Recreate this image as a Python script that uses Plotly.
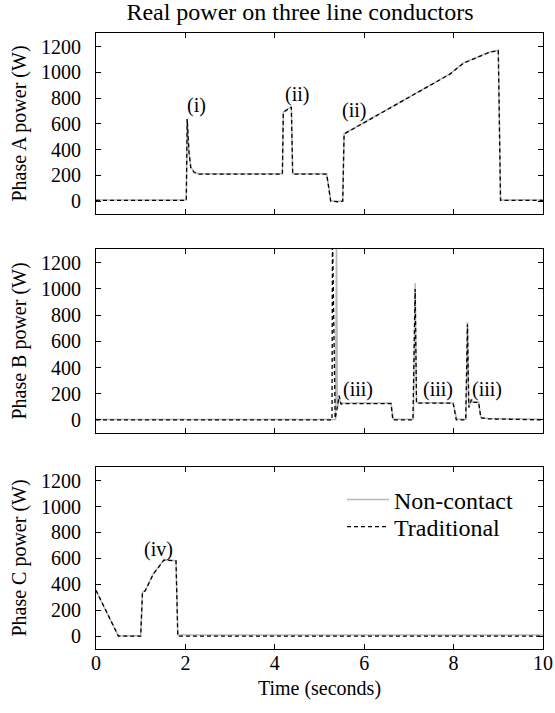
import plotly.graph_objects as go

# ---------------- data ----------------
# Phase A
a_t = [0, 0.5, 1.0, 1.5, 2.02, 2.04, 2.08, 2.12, 2.2, 2.3, 3.0, 3.6, 4.17, 4.19, 4.37, 4.40,
       5.16, 5.20, 5.25, 5.40, 5.52, 5.55, 6.0, 6.7, 7.4, 7.92, 8.22, 8.81, 9.0, 9.05, 9.5, 10]
a_trad = [5, 5, 5, 5, 5, 637, 380, 260, 222, 210, 210, 210, 210, 690, 730, 210,
          210, 120, 0, -5, 0, 521, 610, 748, 882, 986, 1071, 1156, 1169, 5, 5, 5]
a_nc = [8, 10, 7, 9, 8, 640, 385, 265, 225, 212, 212, 213, 212, 692, 733, 212,
        212, 122, 2, -3, 3, 523, 612, 750, 884, 988, 1073, 1158, 1171, 8, 10, 9]

# Phase B
b_t_trad = [0, 2.0, 4.0, 5.28, 5.29, 5.35, 5.38, 5.44, 5.48, 5.6, 6.6, 6.64, 7.09, 7.14, 7.17,
            7.99, 8.06, 8.27, 8.31, 8.34, 8.40, 8.43, 8.56, 8.61, 8.77, 10]
b_trad = [0, 0, 0, 0, 1450, 10, 60, 185, 121, 125, 125, 0, 0, 1000, 128,
          128, 0, 0, 730, 95, 155, 134, 134, 15, 8, 0]
b_t_nc = [0, 2.0, 4.0, 5.36, 5.38, 5.40, 5.42, 5.44, 5.48, 5.6, 6.6, 6.65, 7.10, 7.14, 7.17,
          7.99, 8.07, 8.28, 8.31, 8.34, 8.40, 8.43, 8.56, 8.61, 8.77, 10]
b_nc = [3, 5, 2, 3, 1450, 85, 120, 180, 128, 130, 130, 5, 5, 1046, 133,
        130, 5, 5, 748, 100, 160, 137, 137, 18, 10, 5]

# Phase C
c_t = [0, 0.5, 1.0, 1.04, 1.1, 1.28, 1.52, 1.79, 1.83, 3.0, 5.0, 7.0, 10]
c_trad = [354, 0, 0, 340, 348, 477, 586, 580, 0, 0, 0, 0, 0]
c_nc = [350, 2, 2, 338, 350, 480, 590, 582, 8, 9, 8, 9, 8]

x_ticks = [0, 2, 4, 6, 8, 10]
y_ticks = [0, 200, 400, 600, 800, 1000, 1200]

title = "Real power on three line conductors"
y_titles = ["Phase A power (W)", "Phase B power (W)", "Phase C power (W)"]
x_title = "Time (seconds)"

annotations_a = [(2.24, 740, "(i)"), (4.49, 830, "(ii)"), (5.78, 705, "(ii)")]
annotations_b = [(5.87, 236, "(iii)"), (7.66, 236, "(iii)"), (8.74, 236, "(iii)")]
annotations_c = [(1.39, 671, "(iv)")]

# ---------------- figure ----------------
FONT = "Liberation Serif"
W, H = 555, 713
ML, MR, MT, MB = 96, 12, 33, 64
plot_w = W - ML - MR
plot_h = H - MT - MB


def dom(top_px, bot_px):
    return [(H - MB - bot_px) / plot_h, (H - MB - top_px) / plot_h]


def px_x(px):
    return (px - ML) / plot_w


def px_y(px):
    return (H - MB - px) / plot_h


domains = [dom(33, 214), dom(249, 433), dom(467, 649)]

NC_STYLE = dict(color="#b8b8b8", width=1.5)
TR_STYLE = dict(color="black", width=1.3, dash="4px,3px")

fig = go.Figure()
series = [(a_t, a_nc, a_t, a_trad), (b_t_nc, b_nc, b_t_trad, b_trad), (c_t, c_nc, c_t, c_trad)]
for i, (tn, vn, tt, vt) in enumerate(series):
    ax = "" if i == 0 else str(i + 1)
    fig.add_trace(go.Scatter(x=tn, y=vn, mode="lines", line=NC_STYLE, name="Non-contact",
                             xaxis="x" + ax, yaxis="y" + ax, showlegend=(i == 2), legend="legend"))
    fig.add_trace(go.Scatter(x=tt, y=vt, mode="lines", line=TR_STYLE, name="Traditional",
                             xaxis="x" + ax, yaxis="y" + ax, showlegend=(i == 2), legend="legend2"))

axis_common = dict(showline=True, linecolor="black", linewidth=1.2, mirror="ticks",
                   ticks="inside", ticklen=5, tickwidth=1, tickcolor="black",
                   showgrid=False, zeroline=False, automargin=False,
                   tickfont=dict(family=FONT, size=20, color="black"))

leg_common = dict(xanchor="left", yanchor="middle", bgcolor="rgba(0,0,0,0)",
                  font=dict(family=FONT, size=24, color="black"), itemwidth=42,
                  borderwidth=0)

layout = dict(
    width=W, height=H, margin=dict(l=ML, r=MR, t=MT, b=MB, autoexpand=False),
    paper_bgcolor="white", plot_bgcolor="white",
    font=dict(family=FONT, color="black"),
    title=dict(text=title, x=300 / W, xanchor="center", y=1 - 12 / H, yanchor="middle",
               font=dict(family=FONT, size=24, color="black")),
    showlegend=True,
    legend=dict(leg_common, x=px_x(342), y=px_y(500)),
    legend2=dict(leg_common, x=px_x(342), y=px_y(527)),
)

for i in range(3):
    ax = "" if i == 0 else str(i + 1)
    xa = dict(axis_common, range=[0, 10], tickvals=x_ticks, anchor="y" + ax,
              showticklabels=(i == 2), ticklabelstandoff=-4)
    if i == 2:
        xa["title"] = dict(text=x_title, font=dict(family=FONT, size=20, color="black"), standoff=7)
    else:
        xa["matches"] = "x3"
    ya = dict(axis_common, range=[-100, 1305], tickvals=y_ticks, domain=domains[i],
              anchor="x" + ax, ticklabelstandoff=10,
              title=dict(text=y_titles[i], font=dict(family=FONT, size=20, color="black"), standoff=8))
    layout["xaxis" + ax] = xa
    layout["yaxis" + ax] = ya

ann = []
for i, lst in enumerate([annotations_a, annotations_b, annotations_c]):
    ax = "" if i == 0 else str(i + 1)
    for (x, y, t) in lst:
        ann.append(dict(x=x, y=y, xref="x" + ax, yref="y" + ax, text=t, showarrow=False,
                        font=dict(family=FONT, size=20, color="black")))
layout["annotations"] = ann

fig.update_layout(**layout)
fig.write_html("out.html", config={"displayModeBar": False},
               post_script="document.body.style.margin='0px';")
